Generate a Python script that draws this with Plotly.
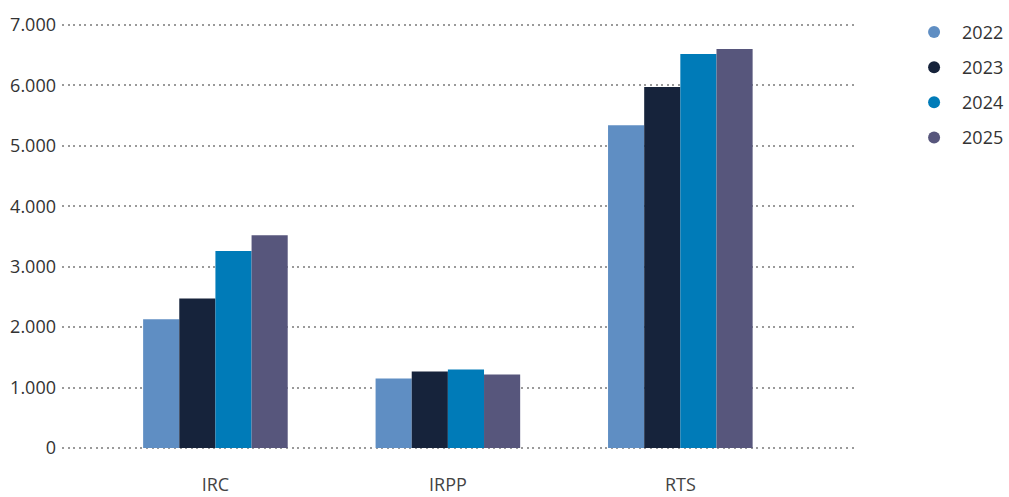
import plotly.graph_objects as go

categories = ["IRC", "IRPP", "RTS"]
years = ["2022", "2023", "2024", "2025"]
values = {
    "2022": [2130, 1150, 5340],
    "2023": [2475, 1265, 5975],
    "2024": [3260, 1300, 6520],
    "2025": [3520, 1215, 6605],
}
colors = ["#5f8ec3", "#16233b", "#007bb8", "#57567c"]
y_ticks = [0, 1000, 2000, 3000, 4000, 5000, 6000, 7000]
y_labels = ["0", "1.000", "2.000", "3.000", "4.000", "5.000", "6.000", "7.000"]

_FONT = "Open Sans, sans-serif"
_TEXT = "#333333"

fig = go.Figure()

for year, color in zip(years, colors):
    fig.add_trace(
        go.Bar(
            x=categories,
            y=values[year],
            name=year,
            marker_color=color,
            marker_line_width=0,
            showlegend=False,
            legendgroup=year,
        )
    )

# legend entries with round markers
for year, color in zip(years, colors):
    fig.add_trace(
        go.Scatter(
            x=[None],
            y=[None],
            mode="markers",
            name=year,
            marker=dict(color=color, size=15, symbol="circle"),
            legendgroup=year,
        )
    )

fig.update_layout(
    width=1009,
    height=497,
    barmode="group",
    bargap=0.378,
    bargroupgap=0,
    paper_bgcolor="#ffffff",
    plot_bgcolor="#ffffff",
    font=dict(family=_FONT, size=18, color=_TEXT),
    margin=dict(l=62, r=152, t=22, b=46, autoexpand=False),
    legend=dict(
        xref="container",
        yref="container",
        x=0.898,
        xanchor="left",
        y=0.972,
        yanchor="top",
        font=dict(size=18, color=_TEXT),
        tracegroupgap=8.7,
        itemwidth=46,
        itemsizing="constant",
    ),
    xaxis=dict(
        range=[-0.66, 2.76],
        showgrid=False,
        showline=False,
        zeroline=False,
        ticks="",
        automargin=False,
        ticklabelstandoff=21,
        tickfont=dict(size=18, color="#444444"),
    ),
    yaxis=dict(
        range=[-50, 7050],
        tickvals=y_ticks,
        ticktext=y_labels,
        showgrid=True,
        gridcolor="#9a9a9a",
        griddash="2px,3.6px",
        gridwidth=1.6,
        zeroline=False,
        showline=False,
        ticks="",
        automargin=False,
        ticklabelstandoff=5,
        tickfont=dict(size=18, color=_TEXT),
    ),
)

# drop the default page margin so the figure fills the window
fig.write_html(
    "out.html",
    config={"displayModeBar": False},
    post_script="document.body.style.margin='0';document.body.style.overflow='hidden';",
)
